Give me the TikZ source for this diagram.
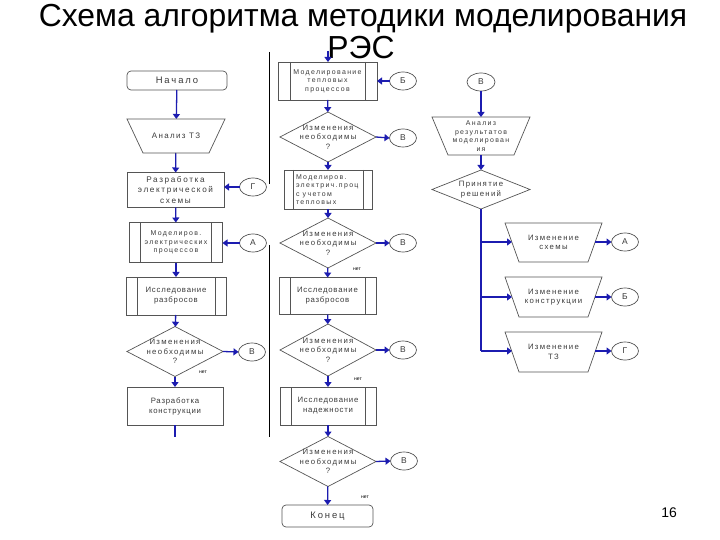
\documentclass[tikz,border=0pt]{standalone}
\usepackage{fontspec}
\setmainfont{Liberation Sans}
\newfontfamily\boxfont[LetterSpace=10]{Liberation Sans}
\newfontfamily\diafont[LetterSpace=17]{Liberation Sans}
\newfontfamily\bigfont[LetterSpace=20]{Liberation Sans}
\newfontfamily\sboxfont[LetterSpace=19]{Liberation Sans}
\usetikzlibrary{arrows.meta,shapes.geometric}
\definecolor{arr}{HTML}{1C1CB0}
\definecolor{ln}{HTML}{555555}
\definecolor{tx}{HTML}{3A3A3A}
\begin{document}
\begin{tikzpicture}[x=1bp,y=-1bp,
  every node/.style={inner sep=0pt,outer sep=0pt},
  txt/.style={font=\boxfont\fontsize{7.8}{10}\selectfont,text=tx,align=center},
  dtxt/.style={font=\diafont\fontsize{7.8}{9.5}\selectfont,text=tx,align=center},
  stxt/.style={font=\sboxfont\fontsize{7}{8.6}\selectfont,text=tx,align=center},
  shp/.style={draw=ln,line width=0.7bp},
  blk/.style={shp,txt},
  proc/.style={shp,txt,path picture={\draw[ln,line width=0.7bp]
     ([xshift=#1]path picture bounding box.north west) -- ([xshift=#1]path picture bounding box.south west)
     ([xshift=-#1]path picture bounding box.north east) -- ([xshift=-#1]path picture bounding box.south east);}},
  proc/.default=11bp,
  term/.style={shp,rounded corners=4bp,font=\bigfont\fontsize{9.5}{10}\selectfont,text=tx},
  con/.style={shp,ellipse,minimum width=27bp,minimum height=18bp,font=\fontsize{8.5}{8.5}\selectfont,text=tx},
  dia/.style={shp,diamond,minimum width=96bp,minimum height=50bp},
  trapn/.style={dtxt},
  flow/.style={draw=arr,line width=1.3bp,-{Triangle[length=5bp,width=7bp]}},
  plain/.style={draw=arr,line width=1.3bp},
  sep/.style={draw=black,line width=0.6bp},
  no/.style={font=\fontsize{5}{5}\selectfont,text=black}
]
\useasboundingbox (0,0) rectangle (720,540);
% title
\node[font=\fontsize{32}{32}\selectfont] (title1) at (363,19) {Схема алгоритма методики моделирования};
\node[font=\fontsize{32}{32}\selectfont] (title2) at (361,48) {РЭС};
\node[font=\fontsize{14}{14}\selectfont] (pg) at (669,513) {16};

% separator
\coordinate (s1) at (269,52); \coordinate (s2) at (269,184);
\coordinate (s3) at (269,245); \coordinate (s4) at (269,437);
\draw[sep] (s1) -- (s2) (s3) -- (s4);

% ---------------- left column
\node[term,minimum width=100bp,minimum height=19bp] (start) at (177,80.5) {Начало};
\node[trapn,minimum width=98bp,minimum height=34bp,font=\diafont\fontsize{8}{10}\selectfont] (az) at (176,136) {Анализ ТЗ};
\node[shp,minimum width=97bp,minimum height=35bp,font=\bigfont\fontsize{8.2}{10.3}\selectfont,text=tx,align=center] (res) at (175.5,190) {Разработка\\электрической\\схемы};
\node[proc=11bp,stxt,minimum width=93bp,minimum height=40bp] (mep) at (176,242.5) {Моделиров.\\электрических\\процессов};
\node[proc=11bp,minimum width=100bp,minimum height=38bp] (isr1) at (176,296) {Исследование\\разбросов};
\node[dia] (d0) at (175,351.5) {};
\node[dtxt] (d0t) at (d0) {Изменения\\необходимы\\?};
\node[blk,minimum width=96bp,minimum height=38bp] (rk) at (175,406) {Разработка\\конструкции};
\coordinate (rkend) at (175,437);
\node[con] (cG1) at (253,187) {Г};
\node[con] (cA1) at (253,243) {А};
\node[con] (cV1) at (252,352) {В};
\node[no] (n0) at (203,372) {нет};

\draw[flow] (start) -- (az);
\draw[flow] (az) -- (res);
\draw[flow] (res) -- (mep);
\draw[flow] (mep) -- (isr1);
\draw[flow] (isr1) -- (d0);
\draw[flow] (d0) -- (rk);
\draw[plain] (rk) -- (rkend);
\draw[flow] (cG1.west) -- (cG1.west -| res.east);
\draw[flow] (cA1.west) -- (cA1.west -| mep.east);
\draw[flow] (d0.east) -- (cV1.west);

% ---------------- middle column
\coordinate (mtop) at (328,51);
\node[proc=12bp,stxt,minimum width=99bp,minimum height=38bp] (mtp) at (327.5,81) {Моделирование\\тепловых\\процессов};
\node[dia] (d1) at (328,137) {};
\node[dtxt] (d1t) at (d1) {Изменения\\необходимы\\?};
\node[proc=9bp,shp,minimum width=88bp,minimum height=39bp] (mec) at (328,189.5) {};
\node[stxt,align=left,anchor=west] (mect) at (296,189.5) {Моделиров.\\электрич.проц\\с учетом\\тепловых};
\node[dia] (d2) at (328,243) {};
\node[dtxt] (d2t) at (d2) {Изменения\\необходимы\\?};
\node[proc=11bp,minimum width=97bp,minimum height=37bp] (isr2) at (327.5,296) {Исследование\\разбросов};
\node[dia,minimum height=52bp] (d3) at (328,350) {};
\node[dtxt] (d3t) at (d3) {Изменения\\необходимы\\?};
\node[proc=11bp,minimum width=96bp,minimum height=38bp] (nad) at (328,406) {Исследование\\надежности};
\node[dia] (d4) at (328,461.5) {};
\node[dtxt] (d4t) at (d4) {Изменения\\необходимы\\?};
\node[term,minimum width=91bp,minimum height=22bp] (end) at (327.5,516) {Конец};
\node[con] (cB1) at (403,81) {Б};
\node[con] (cV2) at (403,138) {В};
\node[con] (cV3) at (403,243) {В};
\node[con] (cV4) at (403,350) {В};
\node[con] (cV5) at (404,461) {В};
\node[no] (n2) at (357,269) {нет};
\node[no] (n3) at (358,379) {нет};
\node[no] (n4) at (365,497) {нет};

\draw[flow] (mtop) -- (mtop |- mtp.north);
\draw[flow] (mtp) -- (d1);
\draw[flow] (d1) -- (mec);
\draw[flow] (mec) -- (d2);
\draw[flow] (d2) -- (isr2);
\draw[flow] (isr2) -- (d3);
\draw[flow] (d3) -- (nad);
\draw[flow] (nad) -- (d4);
\draw[flow] (d4) -- (end);
\draw[flow] (cB1.west) -- (cB1.west -| mtp.east);
\draw[flow] (d1.east) -- (cV2.west);
\draw[flow] (d2.east) -- (cV3.west);
\draw[flow] (d3.east) -- (cV4.west);
\draw[flow] (d4.east) -- (cV5.west);

% ---------------- right column
\node[con,minimum width=28bp] (cV0) at (481,82) {В};
\node[trapn,stxt,minimum width=98bp,minimum height=38bp] (ar) at (481,136) {Анализ\\результатов\\моделирован\\ия};
\node[dia,minimum width=98bp,minimum height=39bp] (pr) at (481,189.5) {};
\node[dtxt] (prt) at (pr) {Принятие\\решений};
\node[trapn,minimum width=97bp,minimum height=39bp] (c1) at (553.5,242.5) {Изменение\\схемы};
\node[trapn,minimum width=97bp,minimum height=40bp] (c2) at (553.5,297) {Изменение\\конструкции};
\node[trapn,minimum width=97bp,minimum height=40bp] (c3) at (553.5,352) {Изменение\\ТЗ};
\node[con] (cA2) at (625,242) {А};
\node[con] (cB2) at (625,297) {Б};
\node[con] (cG2) at (625,351) {Г};
\coordinate (b1) at (481,242);
\coordinate (b2) at (481,297);
\coordinate (b3) at (481,351);

\foreach \nm/\ins in {az/16,ar/16,c1/14,c2/14,c3/14}
  \draw[shp] (\nm.north west) -- (\nm.north east) -- ([xshift=-\ins bp]\nm.south east) -- ([xshift=\ins bp]\nm.south west) -- cycle;

\draw[flow] (cV0) -- (ar);
\draw[flow] (ar) -- (pr);
\draw[plain] (pr.south) -- (b3);
\draw[flow] (b1) -- ([xshift=7bp]c1.west |- b1);
\draw[flow] (b2) -- ([xshift=7bp]c2.west |- b2);
\draw[flow] (b3) -- ([xshift=7bp]c3.west |- b3);
\draw[flow] ([xshift=-7bp]c1.east |- cA2.west) -- (cA2.west);
\draw[flow] ([xshift=-7bp]c2.east |- cB2.west) -- (cB2.west);
\draw[flow] ([xshift=-7bp]c3.east |- cG2.west) -- (cG2.west);
\end{tikzpicture}
\end{document}
